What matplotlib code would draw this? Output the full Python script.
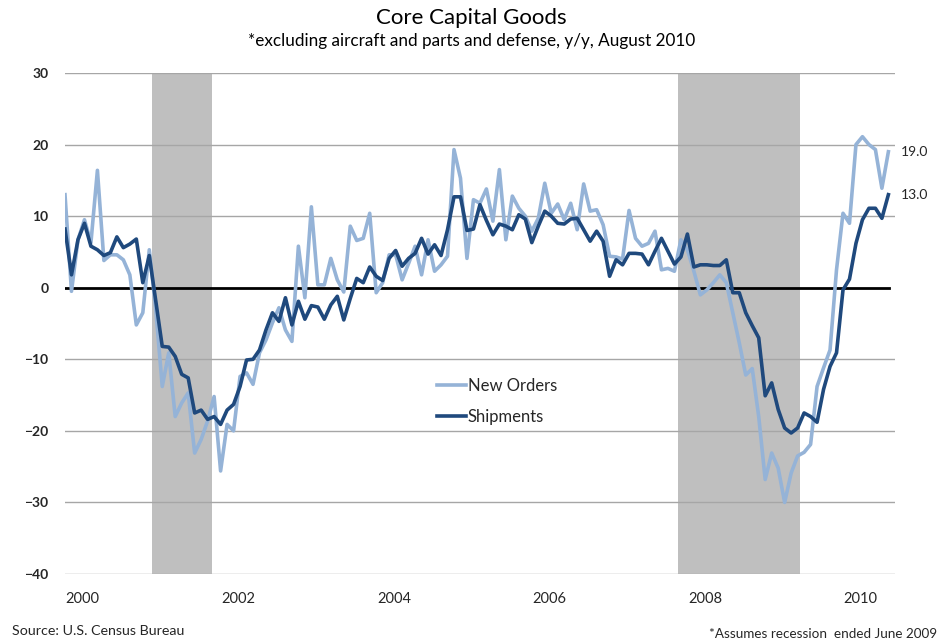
import numpy as np
import matplotlib
matplotlib.use("Agg")
import matplotlib.pyplot as plt

# monthly, Jan 2000 .. Aug 2010 (y/y % change)
new_orders = [
    13.0, -0.5, 6.7, 9.5, 6.3, 16.4, 3.8, 4.6, 4.6, 3.9, 1.8, -5.2,
    -3.5, 5.3, -3.0, -13.8, -9.1, -18.0, -16.1, -14.7, -23.1, -21.2, -18.6, -15.2,
    -25.6, -19.1, -20.0, -12.4, -11.9, -13.5, -9.1, -7.3, -4.9, -2.8, -5.9, -7.5,
    5.8, -1.4, 11.3, 0.4, 0.4, 4.1, 1.1, -0.6, 8.6, 6.6, 6.9, 10.4,
    -0.7, 0.7, 4.6, 4.6, 1.1, 3.4, 5.8, 1.8, 6.7, 2.3, 3.2, 4.4,
    19.3, 15.3, 4.1, 12.3, 11.8, 13.8, 9.3, 16.5, 6.7, 12.8, 11.1, 10.0,
    7.9, 9.7, 14.6, 10.4, 11.7, 9.5, 11.8, 8.1, 14.5, 10.7, 10.9, 8.8,
    4.4, 4.3, 4.0, 10.8, 6.9, 5.8, 6.2, 7.9, 2.5, 2.7, 2.3, 6.7,
    5.3, 2.3, -1.0, -0.3, 0.7, 1.8, 0.7, -3.5, -7.7, -12.2, -11.3, -18.0,
    -26.8, -23.1, -25.2, -30.0, -25.9, -23.5, -23.0, -21.9, -13.8, -11.2, -8.7, 2.5,
    10.4, 9.0, 20.0, 21.1, 20.0, 19.3, 13.9, 19.0,
]
shipments = [
    8.2, 1.8, 6.7, 9.0, 5.8, 5.3, 4.5, 4.9, 7.1, 5.6, 6.1, 6.8,
    0.7, 4.5, -1.9, -8.2, -8.3, -9.6, -12.1, -12.6, -17.5, -17.1, -18.4, -18.0,
    -19.1, -17.1, -16.3, -13.8, -10.1, -10.0, -8.7, -5.9, -3.5, -4.7, -1.4, -5.2,
    -1.9, -4.4, -2.5, -2.7, -4.4, -2.4, -1.2, -4.5, -1.5, 1.3, 0.7, 2.9,
    1.6, 1.0, 4.1, 5.2, 3.0, 4.1, 4.8, 6.9, 4.7, 6.0, 4.5, 8.1,
    12.7, 12.7, 8.0, 8.2, 11.6, 9.4, 7.4, 8.9, 8.6, 8.1, 10.2, 9.6,
    6.3, 8.6, 10.7, 10.0, 9.0, 8.9, 9.6, 9.7, 8.1, 6.5, 7.9, 6.5,
    1.6, 3.9, 3.2, 4.8, 4.8, 4.7, 3.2, 5.1, 6.9, 5.1, 3.3, 4.3,
    7.5, 2.9, 3.2, 3.2, 3.1, 3.1, 3.9, -0.7, -0.7, -3.5, -5.3, -7.0,
    -15.1, -13.3, -17.0, -19.6, -20.3, -19.6, -17.5, -18.0, -18.8, -14.2, -11.0, -9.1,
    -0.3, 1.2, 6.2, 9.5, 11.1, 11.1, 9.7, 13.0,
]
recessions = [(2001 + 1.4 / 12, 2001 + 10.6 / 12), (2007 + 10.5 / 12, 2009 + 5.4 / 12)]
year_ticks = [2000, 2002, 2004, 2006, 2008, 2010]
y_ticks = [30, 20, 10, 0, -10, -20, -30, -40]

plt.rcParams['font.family'] = ['Lato', 'DejaVu Sans']

dates = 2000 + np.arange(len(new_orders)) / 12.0

fig = plt.figure(figsize=(9.48, 6.43), dpi=100)
ax = fig.add_axes([65 / 948, 1 - 574 / 643, 830 / 948, 501 / 643])

for start, end in recessions:
    ax.axvspan(start, end, color='#bfbfbf', lw=0, zorder=0)

for y in y_ticks:
    if y != 0:
        ax.axhline(y, color='#a6a6a6', lw=1, zorder=1)
ax.axhline(0, color='black', lw=2, xmax=0.993, zorder=2)

ax.plot(dates, new_orders, color='#95b3d7', lw=2.6, label='New Orders', zorder=3)
ax.plot(dates, shipments, color='#1f497d', lw=2.6, label='Shipments', zorder=4)

ax.text(dates[-1] + 0.16, new_orders[-1], '%.1f' % new_orders[-1], fontsize=10,
        va='center', ha='left', color='#262626')
ax.text(dates[-1] + 0.16, shipments[-1], '%.1f' % shipments[-1], fontsize=10,
        va='center', ha='left', color='#262626')

ax.set_xlim(2000, 2000 + 830 / 77.8)
ax.set_ylim(-40, 30)
ax.set_yticks(y_ticks)
ax.set_xticks([])
for s in ax.spines.values():
    s.set_visible(False)
ax.tick_params(axis='y', length=0, pad=12, labelsize=10, labelcolor='#262626')
for t in ax.get_yticklabels():
    t.set_fontweight('bold')
for yr in year_ticks:
    ax.text(yr + 0.01, -42.5, str(yr), fontsize=10.5, ha='left', va='top',
            color='#262626')

leg = ax.legend(loc='center left', bbox_to_anchor=(0.43, 0.345), frameon=False,
                fontsize=12, handlelength=1.75, handletextpad=0.1,
                labelspacing=0.9, labelcolor='#262626')

fig.text(0.497, 0.972, 'Core Capital Goods', ha='center', va='center', fontsize=16)
fig.text(0.497, 0.937, '*excluding aircraft and parts and defense, y/y, August 2010',
         ha='center', va='center', fontsize=12.3)
fig.text(12 / 948, 1 - 631 / 643, 'Source: U.S. Census Bureau', ha='left',
         va='center', fontsize=10.3, color='#262626')
fig.text(937 / 948, 1 - 634 / 643, '*Assumes recession  ended June 2009', ha='right',
         va='center', fontsize=9.7, color='#262626')

fig.savefig('out.png', dpi=100)
